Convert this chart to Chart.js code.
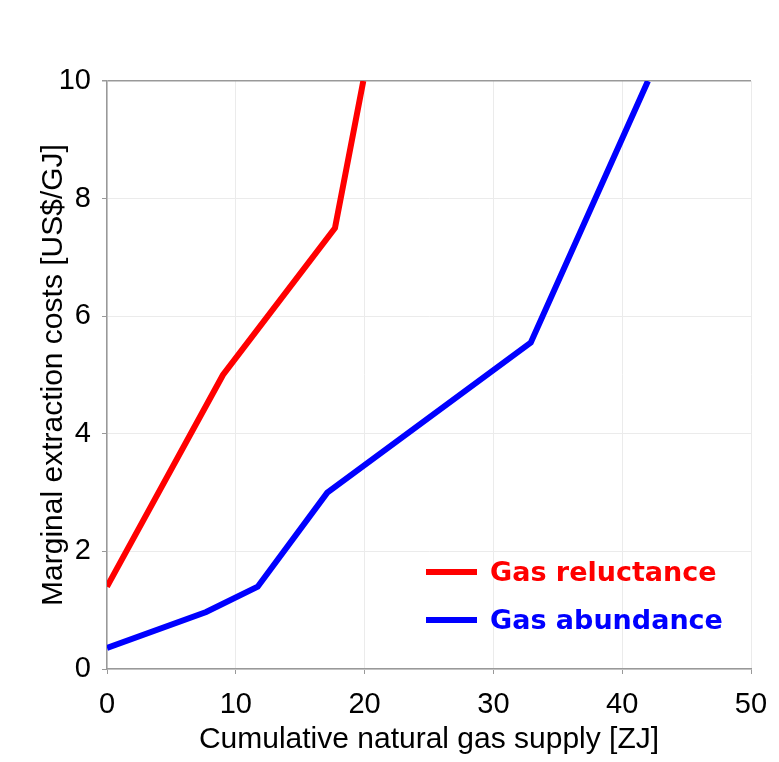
<!DOCTYPE html>
<html>
<head>
<meta charset="utf-8">
<script src="https://cdn.jsdelivr.net/npm/chart.js@4"></script>
<style>
html,body{margin:0;padding:0;background:#fff;}
#wrap{width:779px;height:762px;}
</style>
</head>
<body>
<div id="wrap"><canvas id="c" width="779" height="762"></canvas></div>
<script>
const seriesNames = ["Gas reluctance", "Gas abundance"];
const reluctanceX = [0, 9.0, 17.7, 19.9];
const reluctanceY = [1.4, 5.0, 7.5, 10];
const abundanceX = [0, 7.7, 11.7, 17.1, 32.9, 42.0];
const abundanceY = [0.36, 0.97, 1.4, 3.0, 5.55, 10];
const xTicks = [0, 10, 20, 30, 40, 50];
const yTicks = [0, 2, 4, 6, 8, 10];
const xTitle = "Cumulative natural gas supply [ZJ]";
const yTitle = "Marginal extraction costs [US$/GJ]";

const toPts = (xs, ys) => xs.map((x, i) => ({x: x, y: ys[i]}));
const FONT = '"Liberation Sans", Arial, sans-serif';

const legendPlugin = {
  id: 'innerLegend',
  afterDatasetsDraw(chart) {
    const ctx = chart.ctx;
    const area = chart.chartArea;
    ctx.save();
    ctx.font = 'bold 27px "DejaVu Sans"';
    ctx.textBaseline = 'middle';
    chart.data.datasets.forEach((ds, i) => {
      const y = area.bottom - 97 + i * 48;
      const x0 = area.left + 319;
      ctx.strokeStyle = ds.borderColor;
      ctx.lineWidth = 6;
      ctx.beginPath();
      ctx.moveTo(x0, y);
      ctx.lineTo(x0 + 51, y);
      ctx.stroke();
      ctx.fillStyle = ds.borderColor;
      ctx.fillText(ds.label, x0 + 64, y + 2);
    });
    ctx.restore();
  }
};

new Chart(document.getElementById('c'), {
  type: 'scatter',
  data: {
    datasets: [
      {label: seriesNames[0], data: toPts(reluctanceX, reluctanceY), showLine: true,
       borderColor: '#ff0000', borderWidth: 6, pointRadius: 0, fill: false},
      {label: seriesNames[1], data: toPts(abundanceX, abundanceY), showLine: true,
       borderColor: '#0000ff', borderWidth: 6, pointRadius: 0, fill: false}
    ]
  },
  options: {
    responsive: false,
    animation: false,
    layout: {padding: {top: 81, right: 28, left: 0, bottom: 0}},
    plugins: {legend: {display: false}, tooltip: {enabled: false}},
    scales: {
      x: {
        type: 'linear', min: 0, max: 50,
        afterBuildTicks: s => { s.ticks = xTicks.map(v => ({value: v})); },
        afterFit: s => { s.height = 93; s.paddingLeft = 0; s.paddingRight = 0; },
        ticks: {color: '#000', font: {family: FONT, size: 29}, padding: 14},
        grid: {color: '#ebebeb', tickColor: '#999', tickLength: 5, lineWidth: 1},
        border: {color: '#999', width: 1.5},
        title: {display: true, text: xTitle, color: '#000',
                font: {family: FONT, size: 30}, padding: {top: 0, bottom: 4}}
      },
      y: {
        type: 'linear', min: 0, max: 10,
        afterBuildTicks: s => { s.ticks = yTicks.map(v => ({value: v})); },
        afterFit: s => { s.width = 107; s.paddingTop = 0; s.paddingBottom = 0; },
        ticks: {color: '#000', font: {family: FONT, size: 29}, padding: 11},
        grid: {color: ctx => (ctx.tick && ctx.tick.value === 10 ? '#999' : '#ebebeb'),
               tickColor: '#999', tickLength: 5, lineWidth: ctx => (ctx.tick && ctx.tick.value === 10 ? 1.5 : 1)},
        border: {color: '#999', width: 1.5},
        title: {display: true, text: yTitle, color: '#000',
                font: {family: FONT, size: 30}, padding: {top: 36, bottom: 0}}
      }
    }
  },
  plugins: [legendPlugin]
});
</script>
</body>
</html>
